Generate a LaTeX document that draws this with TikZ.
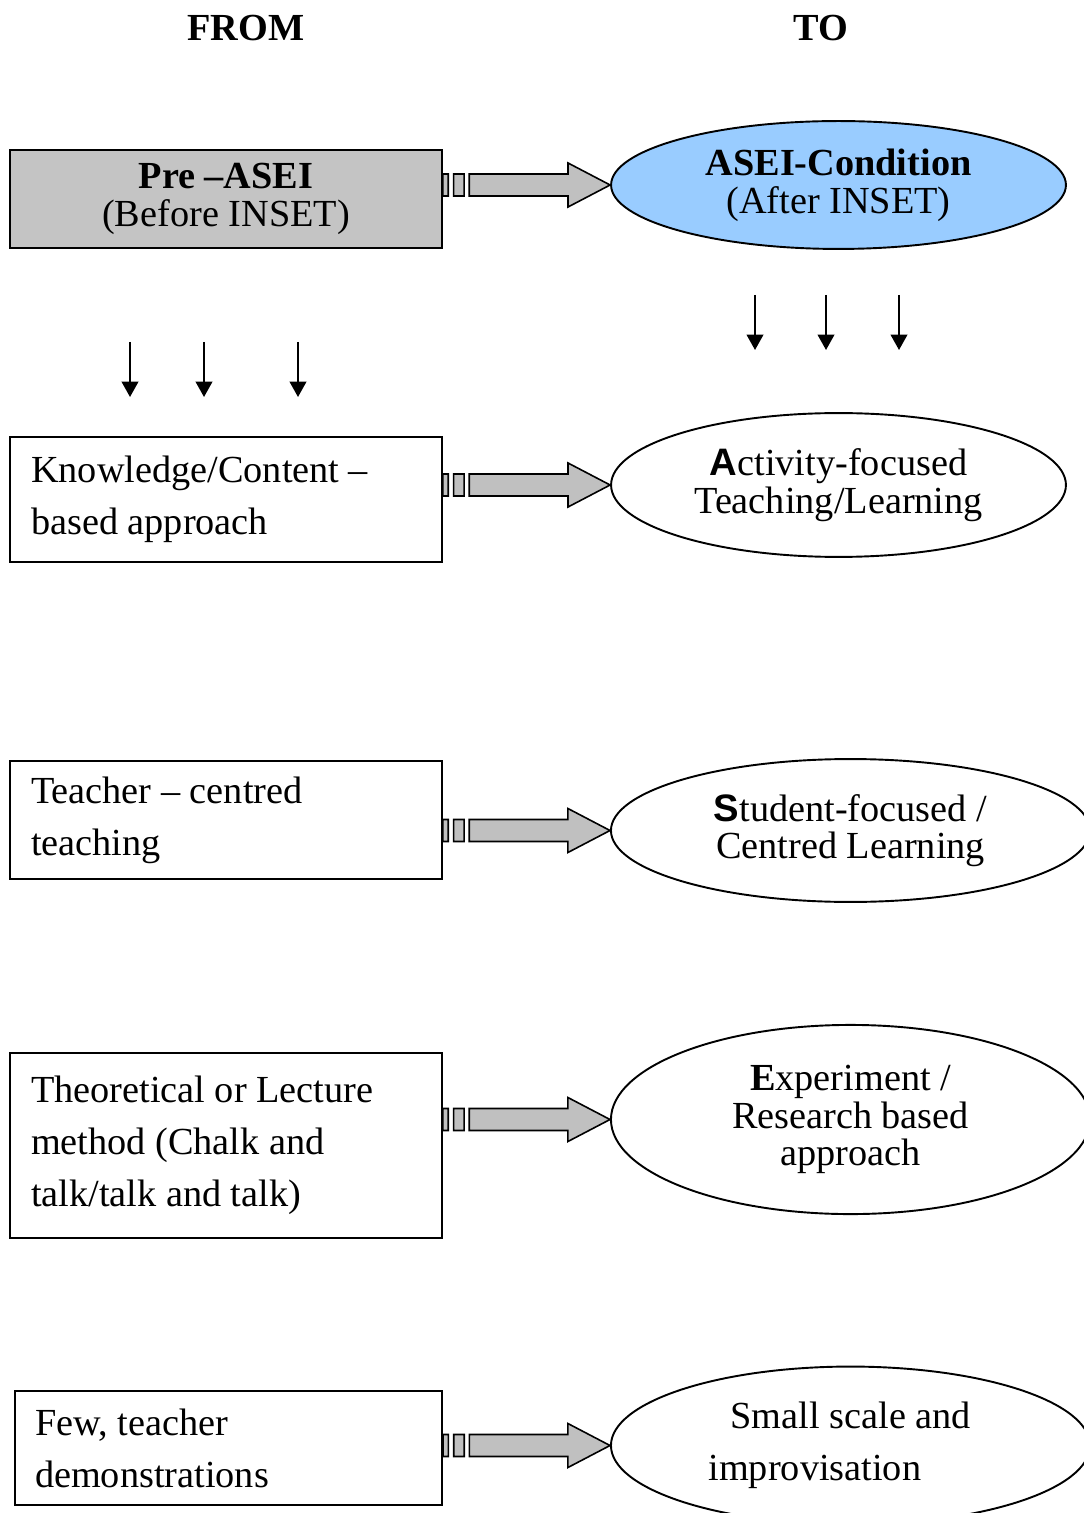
\documentclass[tikz,border=0pt]{standalone}
\usepackage{fontspec}
\setmainfont{Liberation Serif}
\setsansfont{Liberation Sans}
\usepackage{tikz}
\usetikzlibrary{shapes.geometric, arrows.meta, calc}
\definecolor{arrowgray}{RGB}{192,192,192}
\definecolor{boxgray}{RGB}{196,196,196}
\definecolor{aseiblue}{RGB}{153,204,255}
\tikzset{every picture/.style={x=0.3135pt, y=-0.3135pt}}
\tikzset{
  frombox/.style={draw, line width=0.6pt, rectangle, text width=122.2pt, inner xsep=6.6pt, inner ysep=0pt, align=flush left, font=\fontsize{12}{16.3}\selectfont},
  toell/.style={draw, line width=0.6pt, ellipse, inner sep=0pt, align=center, font=\fontsize{12}{11.8}\selectfont},
  fatarrow/.style={draw, line width=0.5pt, fill=arrowgray},
  downarrow/.style={line width=0.6pt, -{Triangle[length=4.8pt, width=5.2pt]}}
}
\newcommand{\fatarrow}[2]{%
  \draw[fatarrow] let \p1=(#1.east), \p2=(#2.west) in
    (\x1,{\y2-3.45pt}) rectangle ({\x1+1.66pt},{\y2+3.45pt})
    ({\x1+3.36pt},{\y2-3.45pt}) rectangle ({\x1+6.66pt},{\y2+3.45pt})
    ({\x1+8.25pt},{\y2-3.45pt}) -- ({\x2-13.2pt},{\y2-3.45pt}) -- ({\x2-13.2pt},{\y2-6.9pt})
    -- (\x2,\y2) -- ({\x2-13.2pt},{\y2+6.9pt}) -- ({\x2-13.2pt},{\y2+3.45pt})
    -- ({\x1+8.25pt},{\y2+3.45pt}) -- cycle;}

\begin{document}
\begin{tikzpicture}
    \useasboundingbox (0,0) rectangle (1083,1513);
    % headings
    \node[font=\fontsize{12}{14}\selectfont\bfseries] (from) at (246,28) {FROM};
    \node[font=\fontsize{12}{14}\selectfont\bfseries] (to) at (821,28) {TO};
    % from side
    \node[frombox, fill=boxgray, align=flush center, minimum height=30.7pt, font=\fontsize{12}{11.9}\selectfont] (pre) at (226,199) {\textbf{Pre –ASEI}\\(Before INSET)};
    \node[frombox, minimum height=39.2pt] (know) at (226,499.5) {Knowledge/Content –\\based approach};
    \node[frombox, minimum height=37pt] (teach) at (226,820) {Teacher – centred\\teaching};
    \node[frombox, minimum height=58pt] (theory) at (226,1145.5) {Theoretical or Lecture\\method (Chalk and\\talk/talk and talk)};
    \node[frombox, text width=121.3pt, inner xsep=6.3pt, minimum height=35.7pt] (few) at (228.5,1448) {Few, teacher\\demonstrations};
    % to side
    \node[toell, fill=aseiblue, minimum width=142.6pt, minimum height=40.1pt] (asei) at (838.5,185) {\textbf{ASEI-Condition}\\(After INSET)};
    \node[toell, minimum width=142.6pt, minimum height=45.1pt] (act) at (838.5,485) {\textsf{\textbf{A}}ctivity-focused\\Teaching/Learning};
    \node[toell, minimum width=150.2pt, minimum height=44.8pt] (stud) at (850.5,830.5) {\textsf{\textbf{S}}tudent-focused /\\Centred Learning};
    \node[toell, minimum width=150.2pt, minimum height=59.3pt] (expt) at (850.5,1119.5) {\textbf{E}xperiment /\\Research based\\approach};
    \node[toell, align=flush left, text width=89pt, minimum width=150.2pt, minimum height=49.5pt, font=\fontsize{12}{16.3}\selectfont] (small) at (850.5,1445.5) {\hspace*{6.9pt}Small scale and\\improvisation};
    % block arrows
    \fatarrow{pre}{asei}
    \fatarrow{know}{act}
    \fatarrow{teach}{stud}
    \fatarrow{theory}{expt}
    \fatarrow{few}{small}
    % small arrows
    \foreach \x in {130,204,298} \draw[downarrow] (\x,342) -- (\x,397);
    \foreach \x in {755,826,899} \draw[downarrow] (\x,295) -- (\x,350);
\end{tikzpicture}
\end{document}
